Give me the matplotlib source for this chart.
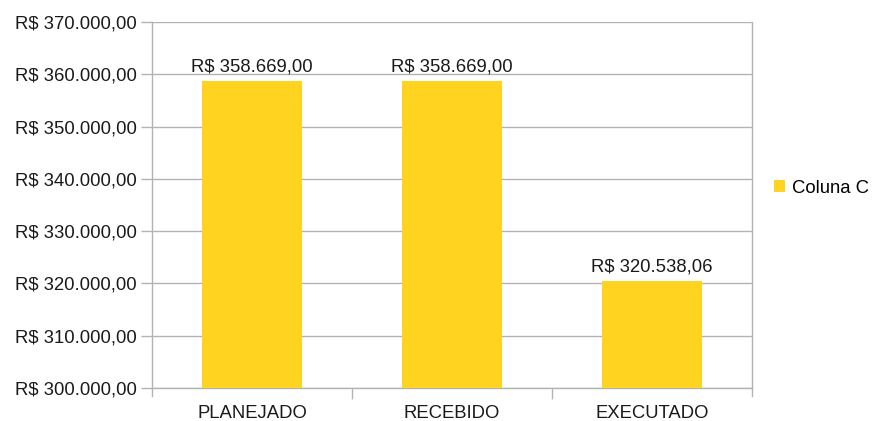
import matplotlib
matplotlib.use("Agg")
import matplotlib.pyplot as plt
from matplotlib.patches import Patch
from matplotlib.ticker import FixedLocator

categories = ["PLANEJADO", "RECEBIDO", "EXECUTADO"]
values = [358669.00, 358669.00, 320538.06]
series_name = "Coluna C"
y_ticks = [300000, 310000, 320000, 330000, 340000, 350000, 360000, 370000]

def brl(v):
    s = f"{v:,.2f}"
    s = s.replace(",", "X").replace(".", ",").replace("X", ".")
    return "R$ " + s

plt.rcParams['font.family'] = ['Liberation Sans', 'DejaVu Sans']
FS = 13.3
W, H = 877, 421
fig = plt.figure(figsize=(W / 100, H / 100), dpi=100)
ax = fig.add_axes([152 / W, (H - 388) / H, 600 / W, 366 / H])

bar_color = "#FFD320"
grid_color = "#b3b3b3"
text_color = "#1a1a1a"
x = list(range(len(categories)))
ax.bar(x, values, width=0.5, color=bar_color, zorder=3, label=series_name)
ax.set_xlim(-0.5, len(categories) - 0.5)
ax.set_ylim(y_ticks[0], y_ticks[-1])
ax.set_yticks(y_ticks)
ax.set_yticklabels([brl(v) for v in y_ticks], fontsize=FS, color=text_color)
ax.yaxis.grid(True, color=grid_color, linewidth=1, zorder=0)

ax.set_xticks(x)
ax.set_xticklabels(categories, fontsize=FS, color=text_color)
ax.tick_params(axis='x', length=0, pad=12)
ax.xaxis.set_minor_locator(FixedLocator([0.5, 1.5]))
ax.tick_params(axis='x', which='minor', length=8, color=grid_color, width=1)
ax.tick_params(axis='y', length=8, color=grid_color, width=1, pad=3)

ax.spines["top"].set_visible(False)
for sp in ["left", "right", "bottom"]:
    ax.spines[sp].set_color(grid_color)
    ax.spines[sp].set_linewidth(1)

for xpos in [-0.5, len(categories) - 0.5]:
    ax.plot([xpos, xpos], [y_ticks[0], y_ticks[0] - 1500], color=grid_color,
            lw=1, clip_on=False, zorder=4)

for xi, v in zip(x, values):
    ax.annotate(brl(v), (xi, v), xytext=(0, 4), textcoords="offset points",
                ha="center", va="bottom", fontsize=FS, color=text_color)

handles = [Patch(facecolor=bar_color, edgecolor="none", label=series_name)]
fig.legend(handles=handles, loc="center left", bbox_to_anchor=(774 / W, 233 / H),
           frameon=False, fontsize=FS, handlelength=0.6, handleheight=0.6,
           handletextpad=0.35, borderpad=0, borderaxespad=0)

fig.savefig("out.png", dpi=100)
